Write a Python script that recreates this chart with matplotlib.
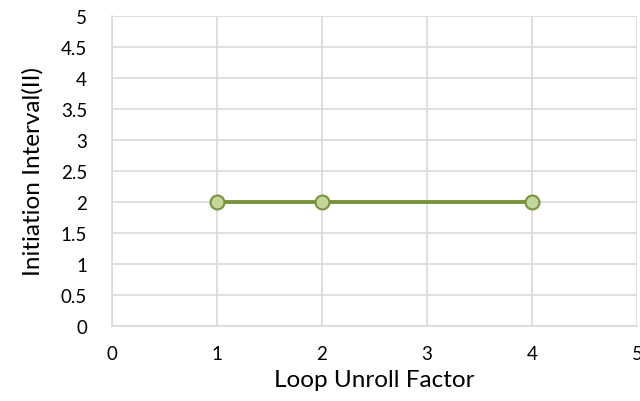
import matplotlib
matplotlib.use("Agg")
import matplotlib.pyplot as plt
import numpy as np

plt.rcParams['font.family'] = ['Lato', 'DejaVu Sans']

unroll = [1, 2, 4]
ii = [2, 2, 2]
xticks = [0, 1, 2, 3, 4, 5]
yticks = [0, 0.5, 1, 1.5, 2, 2.5, 3, 3.5, 4, 4.5, 5]

fig = plt.figure(figsize=(6.4, 4.02), dpi=100)
ax = fig.add_axes([0.175, 0.1866, 0.8203, 0.7711])

grid_c = '#d9d9d9'
ax.plot(unroll, ii, color='#77933C', linewidth=2.8, marker='o', markersize=10,
        markerfacecolor='#C3D69B', markeredgecolor='#77933C', markeredgewidth=1.5,
        zorder=3, clip_on=False)

ax.set_xlim(0, 5)
ax.set_ylim(0, 5)
ax.set_xticks(xticks)
ax.set_yticks(yticks)
ax.set_xticklabels([str(v) for v in xticks])
ax.set_yticklabels([('%g' % v) for v in yticks])
ax.grid(True, color=grid_c, linewidth=1.2)
ax.set_axisbelow(True)
for s in ['top', 'right']:
    ax.spines[s].set_visible(False)
for s in ['left', 'bottom']:
    ax.spines[s].set_color(grid_c)
    ax.spines[s].set_linewidth(1.2)
ax.tick_params(length=0, labelsize=13.5, colors='black')
ax.tick_params(axis='y', pad=18)
ax.tick_params(axis='x', pad=14)
ax.set_xlabel('Loop Unroll Factor', fontsize=17.5, labelpad=5)
ax.set_ylabel('Initiation Interval(II)', fontsize=17.5, labelpad=12)

fig.savefig('out.png', dpi=100)
